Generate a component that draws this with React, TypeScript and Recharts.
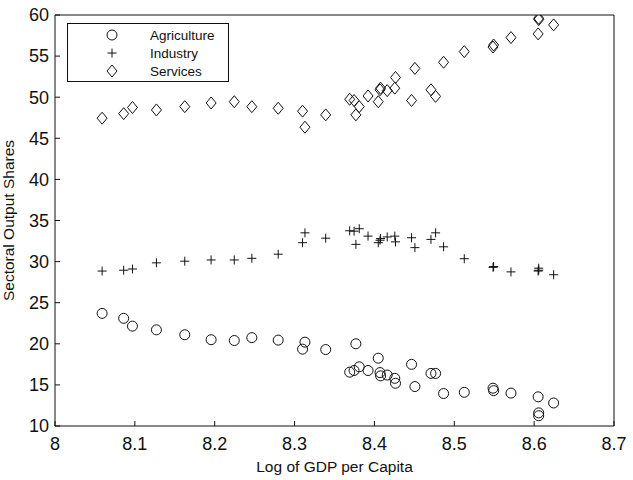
import React from 'react';
import { ScatterChart, Scatter, XAxis, YAxis, Label } from 'recharts';

const gdp = [8.059, 8.086, 8.097, 8.127, 8.1625, 8.1955, 8.2245, 8.2465, 8.2795, 8.31, 8.313, 8.339,
  8.369, 8.3745, 8.3768, 8.381, 8.392, 8.4048, 8.407, 8.4077, 8.416, 8.4255, 8.4264, 8.4465, 8.4507,
  8.4708, 8.4766, 8.4866, 8.5125, 8.5485, 8.5493, 8.571, 8.605, 8.6057, 8.6057, 8.6244];
const agriculture = [23.7, 23.1, 22.15, 21.7, 21.1, 20.5, 20.4, 20.75, 20.45, 19.35, 20.2, 19.3,
  16.55, 16.75, 20.0, 17.2, 16.75, 18.25, 16.5, 16.1, 16.2, 15.8, 15.2, 17.5, 14.8,
  16.4, 16.4, 13.95, 14.1, 14.6, 14.3, 14.0, 13.55, 11.6, 11.25, 12.8];
const industry = [28.85, 28.95, 29.1, 29.85, 30.05, 30.2, 30.2, 30.4, 30.9, 32.3, 33.5, 32.85,
  33.75, 33.7, 32.1, 34.0, 33.1, 32.3, 32.6, 32.8, 33.0, 33.1, 32.4, 32.9, 31.7,
  32.7, 33.5, 31.8, 30.35, 29.3, 29.4, 28.75, 28.85, 28.95, 29.2, 28.4];
const services = [47.45, 48.0, 48.75, 48.45, 48.85, 49.3, 49.45, 48.85, 48.65, 48.3, 46.35, 47.85,
  49.75, 49.6, 47.85, 48.85, 50.15, 49.45, 50.9, 51.1, 50.8, 51.1, 52.4, 49.6, 53.5,
  50.9, 50.1, 54.25, 55.55, 56.1, 56.35, 57.25, 57.7, 59.45, 59.6, 58.8];

const xTicks = [8, 8.1, 8.2, 8.3, 8.4, 8.5, 8.6, 8.7];
const yTicks = [10, 15, 20, 25, 30, 35, 40, 45, 50, 55, 60];
const seriesNames = ['Agriculture', 'Industry', 'Services'];

const toPoints = (ys: number[]) => gdp.map((x, i) => ({ x, y: ys[i] }));
const agriData = toPoints(agriculture);
const indData = toPoints(industry);
const servData = toPoints(services);

const FONT = '"Liberation Sans", Arial, sans-serif';
const INK = '#111';

const CircleMark = (p: any) => (
  <circle cx={p.cx} cy={p.cy} r={5} fill="none" stroke={INK} strokeWidth={1} />
);
const PlusMark = (p: any) => (
  <g stroke={INK} strokeWidth={1}>
    <line x1={p.cx - 4.5} y1={p.cy} x2={p.cx + 4.5} y2={p.cy} />
    <line x1={p.cx} y1={p.cy - 4.5} x2={p.cx} y2={p.cy + 4.5} />
  </g>
);
const DiamondMark = (p: any) => (
  <polygon
    points={`${p.cx},${p.cy - 6} ${p.cx + 5},${p.cy} ${p.cx},${p.cy + 6} ${p.cx - 5},${p.cy}`}
    fill="none"
    stroke={INK}
    strokeWidth={1}
  />
);

const XLabel = (props: any) => {
  const vb = props.viewBox;
  return (
    <text x={vb.x + vb.width / 2} y={vb.y + 46} textAnchor="middle" fontSize={15.5} fontFamily={FONT} fill={INK}>
      Log of GDP per Capita
    </text>
  );
};
const YLabel = (props: any) => {
  const vb = props.viewBox;
  const cx = 14;
  const cy = vb.y + vb.height / 2;
  return (
    <text x={cx} y={cy} transform={`rotate(-90 ${cx} ${cy})`} textAnchor="middle" fontSize={15.5} fontFamily={FONT} fill={INK}>
      Sectoral Output Shares
    </text>
  );
};

export default function App() {
  const tickStyle = { fill: INK, fontSize: 18, fontFamily: FONT };
  return (
    <div style={{ position: 'absolute', left: 0, top: 0, width: 633, height: 480, background: '#fff' }}>
      <ScatterChart width={633} height={480} margin={{ top: 14, right: 18, bottom: 24, left: 15 }}>
        <XAxis
          dataKey="x"
          type="number"
          domain={[8, 8.7]}
          ticks={xTicks}
          interval={0}
          allowDataOverflow
          height={30}
          tickSize={-5}
          tickMargin={16}
          tick={tickStyle}
          stroke={INK}
          axisLine={{ stroke: INK }}
          tickLine={{ stroke: INK }}
        >
          <Label content={<XLabel />} />
        </XAxis>
        <XAxis
          xAxisId="top"
          orientation="top"
          type="number"
          domain={[8, 8.7]}
          ticks={xTicks}
          interval={0}
          allowDataOverflow
          height={1}
          tickSize={-5}
          tick={false}
          axisLine={{ stroke: INK }}
          tickLine={{ stroke: INK }}
        />
        <YAxis
          dataKey="y"
          type="number"
          domain={[10, 60]}
          ticks={yTicks}
          interval={0}
          allowDataOverflow
          width={40}
          tickSize={-5}
          tickMargin={11}
          tick={tickStyle}
          axisLine={{ stroke: INK }}
          tickLine={{ stroke: INK }}
        >
          <Label content={<YLabel />} />
        </YAxis>
        <YAxis
          yAxisId="right"
          orientation="right"
          type="number"
          domain={[10, 60]}
          ticks={yTicks}
          interval={0}
          allowDataOverflow
          width={1}
          tickSize={-5}
          tick={false}
          axisLine={{ stroke: INK }}
          tickLine={{ stroke: INK }}
        />
        <Scatter name={seriesNames[0]} data={agriData} shape={CircleMark} isAnimationActive={false} />
        <Scatter name={seriesNames[1]} data={indData} shape={PlusMark} isAnimationActive={false} />
        <Scatter name={seriesNames[2]} data={servData} shape={DiamondMark} isAnimationActive={false} />
      </ScatterChart>
      <svg
        width={163}
        height={60}
        style={{ position: 'absolute', left: 67, top: 23 }}
      >
        <rect x={0.5} y={0.5} width={161} height={58} fill="#fff" stroke={INK} strokeWidth={1} />
        <CircleMark cx={45} cy={12} />
        <PlusMark cx={45} cy={30} />
        <DiamondMark cx={45} cy={48} />
        {seriesNames.map((n, i) => (
          <text key={n} x={83} y={17 + i * 18} fontSize={13.5} fontFamily={FONT} fill={INK}>
            {n}
          </text>
        ))}
      </svg>
    </div>
  );
}
